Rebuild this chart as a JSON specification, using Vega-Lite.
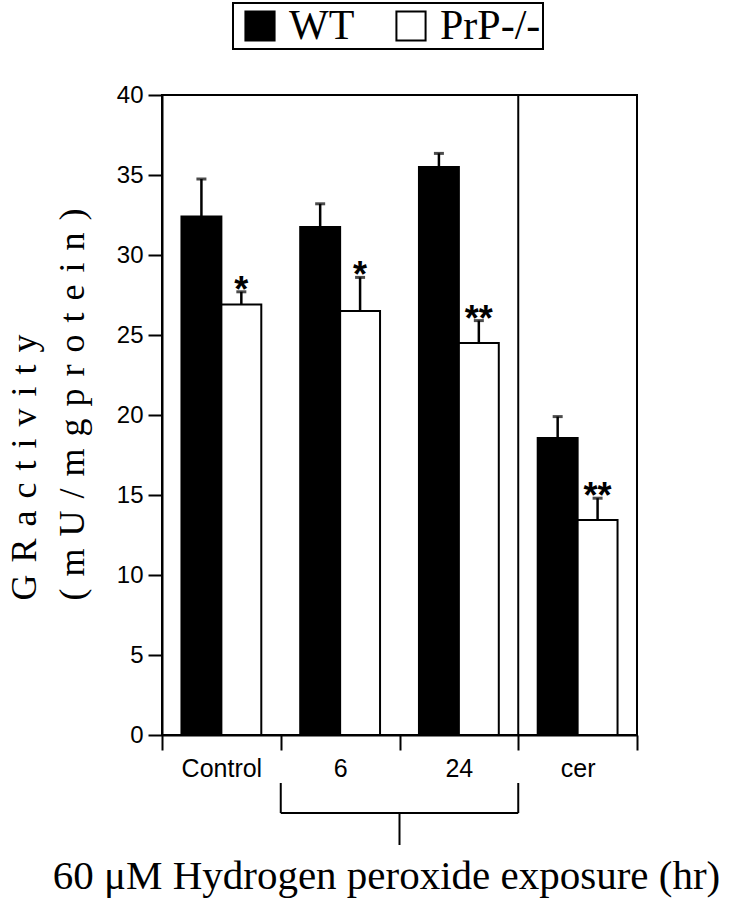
{
  "$schema": "https://vega.github.io/schema/vega-lite/v6.json",
  "width": 475,
  "height": 640,
  "autosize": {"type": "none"},
  "padding": {"left": 162, "top": 95, "right": 101, "bottom": 165},
  "background": "white",
  "config": {
    "view": {"stroke": "black", "strokeWidth": 2},
    "legend": {"strokeWidth": 2}
  },
  "data": {
    "values": [
      {"cat": "Control", "group": "WT", "value": 32.4, "err": 34.75, "sig": ""},
      {"cat": "Control", "group": "PrP-/-", "value": 26.9, "err": 27.7, "sig": "*"},
      {"cat": "6", "group": "WT", "value": 31.75, "err": 33.2, "sig": ""},
      {"cat": "6", "group": "PrP-/-", "value": 26.5, "err": 28.6, "sig": "*"},
      {"cat": "24", "group": "WT", "value": 35.5, "err": 36.35, "sig": ""},
      {"cat": "24", "group": "PrP-/-", "value": 24.5, "err": 25.9, "sig": "**"},
      {"cat": "cer", "group": "WT", "value": 18.56, "err": 19.9, "sig": ""},
      {"cat": "cer", "group": "PrP-/-", "value": 13.44, "err": 14.8, "sig": "**"}
    ]
  },
  "layer": [
    {
      "mark": {"type": "bar", "stroke": "black", "strokeWidth": 2},
      "encoding": {
        "x": {
          "field": "cat", "type": "nominal",
          "scale": {"domain": ["Control", "6", "24", "cer"], "paddingInner": 0, "paddingOuter": 0},
          "axis": {
            "title": "60 μM Hydrogen peroxide exposure (hr)",
            "titleFont": "Liberation Serif", "titleFontSize": 41, "titleFontWeight": "normal", "titleColor": "black",
            "titleX": 224, "titleY": 153, "titleAlign": "center", "titleBaseline": "alphabetic",
            "labelAngle": 0, "labelFont": "Liberation Sans", "labelFontSize": 25, "labelColor": "black", "labelPadding": 6,
            "tickBand": "extent", "tickSize": 15, "tickWidth": 2, "tickColor": "black",
            "domainColor": "black", "domainWidth": 2
          }
        },
        "xOffset": {"field": "group", "scale": {"domain": ["WT", "PrP-/-"], "paddingInner": 0, "paddingOuter": 0.4875}},
        "y": {
          "field": "value", "type": "quantitative",
          "scale": {"domain": [0, 40], "nice": false},
          "axis": {
            "values": [0, 5, 10, 15, 20, 25, 30, 35, 40], "grid": false,
            "title": ["G\u200a R\u200a  a\u200a c\u200a t\u200a i\u200a v\u200a i\u200a t\u200a y", "(\u200a m\u200a U\u200a /\u200a m\u200a g\u200a p\u200a r\u200a o\u200a t\u200a e\u200a i\u200a n\u200a )"],
            "titleFont": "Liberation Serif", "titleFontSize": 36, "titleFontWeight": "normal", "titleColor": "black",
            "titleX": -127, "titleY": 505, "titleAngle": -90, "titleAlign": "left", "titleBaseline": "alphabetic", "titleLineHeight": 48,
            "labelFont": "Liberation Sans", "labelFontSize": 24, "labelColor": "black", "labelPadding": 5,
            "tickSize": 14, "tickWidth": 2, "tickColor": "black",
            "domainColor": "black", "domainWidth": 2
          }
        },
        "color": {
          "field": "group", "type": "nominal",
          "scale": {"domain": ["WT", "PrP-/-"], "range": ["black", "white"]},
          "legend": {
            "orient": "none", "legendX": 71, "legendY": -92, "direction": "horizontal",
            "title": " ", "titleOrient": "left", "titleFontSize": 6, "titlePadding": 4,
            "symbolType": "square", "symbolSize": 850, "symbolStrokeColor": "black", "symbolStrokeWidth": 2, "symbolOpacity": 1,
            "labelFont": "Liberation Serif", "labelFontSize": 42, "labelColor": "black", "labelOffset": 8,
            "columnPadding": 35, "padding": 2, "strokeColor": "black", "fillColor": "white"
          }
        }
      }
    },
    {
      "mark": {"type": "rule", "color": "black", "strokeWidth": 2.5},
      "encoding": {
        "x": {"field": "cat", "type": "nominal", "scale": {"domain": ["Control", "6", "24", "cer"], "paddingInner": 0, "paddingOuter": 0}},
        "xOffset": {"field": "group", "scale": {"domain": ["WT", "PrP-/-"], "paddingInner": 0, "paddingOuter": 0.4875}},
        "y": {"field": "value", "type": "quantitative", "scale": {"domain": [0, 40], "nice": false}},
        "y2": {"field": "err"}
      }
    },
    {
      "mark": {"type": "tick", "color": "black", "size": 10, "thickness": 3},
      "encoding": {
        "x": {"field": "cat", "type": "nominal", "scale": {"domain": ["Control", "6", "24", "cer"], "paddingInner": 0, "paddingOuter": 0}},
        "xOffset": {"field": "group", "scale": {"domain": ["WT", "PrP-/-"], "paddingInner": 0, "paddingOuter": 0.4875}},
        "y": {"field": "err", "type": "quantitative", "scale": {"domain": [0, 40], "nice": false}}
      }
    },
    {
      "mark": {"type": "text", "font": "Liberation Sans", "fontWeight": "bold", "fontSize": 36, "baseline": "alphabetic", "dy": 10, "color": "black"},
      "encoding": {
        "x": {"field": "cat", "type": "nominal", "scale": {"domain": ["Control", "6", "24", "cer"], "paddingInner": 0, "paddingOuter": 0}},
        "xOffset": {"field": "group", "scale": {"domain": ["WT", "PrP-/-"], "paddingInner": 0, "paddingOuter": 0.4875}},
        "y": {"field": "err", "type": "quantitative", "scale": {"domain": [0, 40], "nice": false}},
        "text": {"field": "sig"}
      }
    },
    {
      "data": {"values": [{"cat": "cer"}]},
      "mark": {"type": "rule", "color": "black", "strokeWidth": 2},
      "encoding": {
        "x": {"field": "cat", "type": "nominal", "bandPosition": 0, "scale": {"domain": ["Control", "6", "24", "cer"], "paddingInner": 0, "paddingOuter": 0}},
        "y": {"datum": 0, "type": "quantitative", "scale": {"domain": [0, 40], "nice": false}},
        "y2": {"datum": 40}
      }
    },
    {
      "data": {"values": [{"cat": "6"}, {"cat": "cer"}]},
      "mark": {"type": "line", "color": "black", "strokeWidth": 2},
      "encoding": {
        "x": {"field": "cat", "type": "nominal", "bandPosition": 0, "scale": {"domain": ["Control", "6", "24", "cer"], "paddingInner": 0, "paddingOuter": 0}},
        "y": {"datum": -4.875, "type": "quantitative", "scale": {"domain": [0, 40], "nice": false}}
      }
    },
    {
      "data": {"values": [{"cat": "6"}, {"cat": "cer"}]},
      "mark": {"type": "rule", "color": "black", "strokeWidth": 2},
      "encoding": {
        "x": {"field": "cat", "type": "nominal", "bandPosition": 0, "scale": {"domain": ["Control", "6", "24", "cer"], "paddingInner": 0, "paddingOuter": 0}},
        "y": {"datum": -3, "type": "quantitative", "scale": {"domain": [0, 40], "nice": false}},
        "y2": {"datum": -4.875}
      }
    },
    {
      "data": {"values": [{"cat": "24"}]},
      "mark": {"type": "rule", "color": "black", "strokeWidth": 2},
      "encoding": {
        "x": {"field": "cat", "type": "nominal", "bandPosition": 0, "scale": {"domain": ["Control", "6", "24", "cer"], "paddingInner": 0, "paddingOuter": 0}},
        "y": {"datum": -4.875, "type": "quantitative", "scale": {"domain": [0, 40], "nice": false}},
        "y2": {"datum": -6.875}
      }
    }
  ]
}
